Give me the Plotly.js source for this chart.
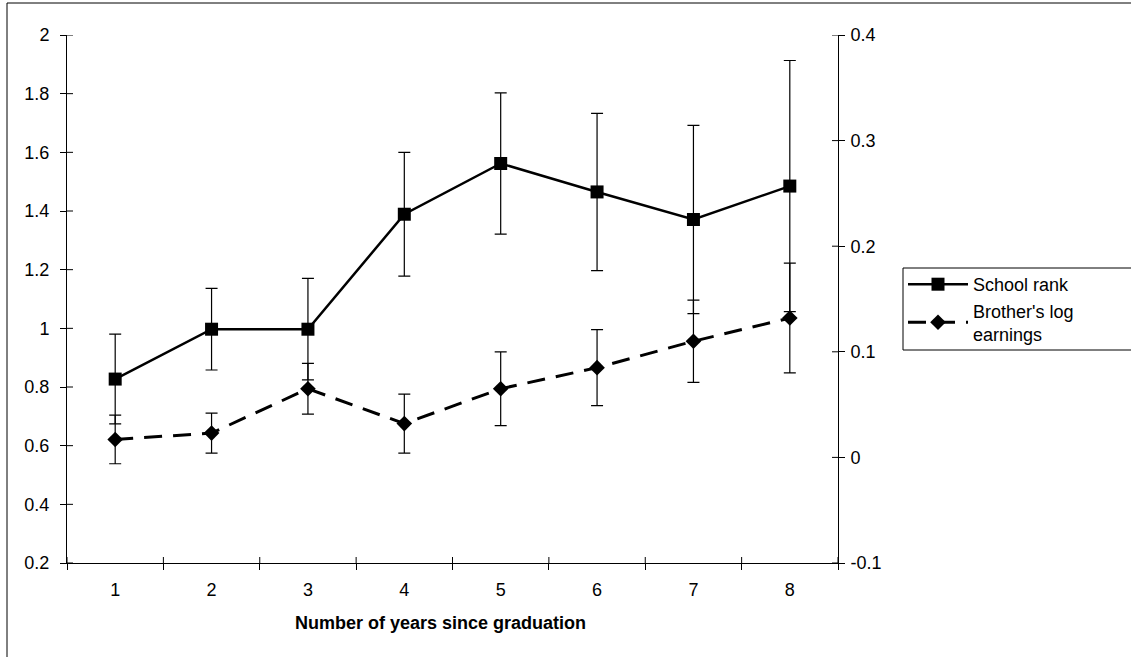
<!DOCTYPE html>
<html>
<head>
<meta charset="utf-8">
<script src="https://cdn.plot.ly/plotly-3.0.1.min.js"></script>
<style>
  html, body { margin: 0; padding: 0; background: #ffffff; }
  #chart { width: 1131px; height: 657px; }
</style>
</head>
<body>
<div id="chart"></div>
<script>
// ---- data ----
const years = [1, 2, 3, 4, 5, 6, 7, 8];
const yearLabels = ['1', '2', '3', '4', '5', '6', '7', '8'];

const schoolRank    = [0.827, 0.997, 0.997, 1.389, 1.562, 1.465, 1.371, 1.485];
const schoolRankErr = [0.153, 0.139, 0.173, 0.211, 0.241, 0.268, 0.321, 0.428];

const brotherLogEarnings    = [0.017, 0.023, 0.065, 0.032, 0.065, 0.085, 0.110, 0.132];
const brotherLogEarningsErr = [0.023, 0.019, 0.024, 0.028, 0.035, 0.036, 0.039, 0.052];

const leftTicks       = [0.2, 0.4, 0.6, 0.8, 1.0, 1.2, 1.4, 1.6, 1.8, 2.0];
const leftTickLabels  = ['0.2', '0.4', '0.6', '0.8', '1', '1.2', '1.4', '1.6', '1.8', '2'];
const rightTicks      = [-0.1, 0, 0.1, 0.2, 0.3, 0.4];
const rightTickLabels = ['-0.1', '0', '0.1', '0.2', '0.3', '0.4'];

const seriesNames = ['School rank', "Brother's log<br>earnings"];
const xTitle = 'Number of years since graduation';

// ---- derived helpers ----
const xBoundaries = years.map(v => v - 0.5).concat([years[years.length - 1] + 0.5]);
const FONT = 'Arial, "Liberation Sans", sans-serif';
const TL = 6; // tick half-length

const traces = [
  {
    x: years, y: schoolRank, name: seriesNames[0], type: 'scatter', mode: 'lines+markers',
    line: { color: '#000000', width: 2.5 },
    marker: { symbol: 'square', size: 13, color: '#000000' },
    error_y: { type: 'data', array: schoolRankErr, visible: true, color: '#000000', thickness: 1.2, width: 6 },
    yaxis: 'y'
  },
  {
    x: years, y: brotherLogEarnings, name: seriesNames[1], type: 'scatter', mode: 'lines+markers',
    line: { color: '#000000', width: 3, dash: '18px,11px' },
    marker: { symbol: 'diamond', size: 12, color: '#000000' },
    error_y: { type: 'data', array: brotherLogEarningsErr, visible: true, color: '#000000', thickness: 1.2, width: 6 },
    yaxis: 'y2'
  }
];

// inner halves of crossing ticks
const shapes = [];
xBoundaries.forEach(b => shapes.push({
  type: 'line', xref: 'x', yref: 'paper', ysizemode: 'pixel', yanchor: 0,
  x0: b, x1: b, y0: 0, y1: TL, line: { color: '#000000', width: 1 }
}));
leftTicks.forEach(v => shapes.push({
  type: 'line', xref: 'paper', yref: 'y', xsizemode: 'pixel', xanchor: 0,
  x0: 0, x1: TL, y0: v, y1: v, line: { color: '#000000', width: 1 }
}));
rightTicks.forEach(v => shapes.push({
  type: 'line', xref: 'paper', yref: 'y2', xsizemode: 'pixel', xanchor: 1,
  x0: -TL, x1: 0, y0: v, y1: v, line: { color: '#000000', width: 1 }
}));
// outer chart frame
const L = 67, R = 838, T = 35, B = 563;
const pw = R - L, ph = B - T;
shapes.push({
  type: 'rect', xref: 'paper', yref: 'paper',
  x0: (7 - L) / pw, x1: (1145 - L) / pw, y0: (B - 670) / ph, y1: (B - 3) / ph,
  line: { color: '#000000', width: 1 }, fillcolor: 'rgba(0,0,0,0)', layer: 'below'
});
// legend frame (runs off the right edge like the reference)
shapes.push({
  type: 'rect', xref: 'paper', yref: 'paper',
  x0: (903 - L) / pw, x1: (1140 - L) / pw, y0: (B - 350) / ph, y1: (B - 268) / ph,
  line: { color: '#000000', width: 1 }, fillcolor: '#ffffff', layer: 'below'
});

const layout = {
  width: 1131, height: 657,
  margin: { l: L, r: 1131 - R, t: T, b: 657 - B, pad: 0 },
  paper_bgcolor: '#ffffff', plot_bgcolor: 'rgba(0,0,0,0)',
  font: { family: FONT, size: 18, color: '#000000' },
  showlegend: true,
  legend: {
    x: (903 - L) / pw, xanchor: 'left',
    y: (B - 266) / ph, yanchor: 'top',
    bgcolor: 'rgba(0,0,0,0)', borderwidth: 0,
    font: { family: FONT, size: 18, color: '#000000' },
    itemwidth: 60, tracegroupgap: 0
  },
  xaxis: {
    range: [0.5, 8.5], tickmode: 'array', tickvals: xBoundaries,
    ticktext: xBoundaries.map(() => ''),
    ticks: 'outside', ticklen: TL, tickwidth: 1, tickcolor: '#000000',
    showline: true, linecolor: '#000000', linewidth: 1,
    showgrid: false, zeroline: false, fixedrange: true,
    title: { text: '' }
  },
  xaxis2: {
    overlaying: 'x', anchor: 'y', side: 'bottom',
    range: [0.5, 8.5], tickmode: 'array', tickvals: years, ticktext: yearLabels,
    ticks: '', showline: false, showgrid: false, zeroline: false,
    tickfont: { family: FONT, size: 18, color: '#000000' },
    ticklabelstandoff: 14,
    title: { text: '' }
  },
  yaxis: {
    range: [0.2, 2.0], tickmode: 'array', tickvals: leftTicks, ticktext: leftTickLabels,
    ticks: 'outside', ticklen: TL, tickwidth: 1, tickcolor: '#000000',
    showline: true, linecolor: '#000000', linewidth: 1,
    showgrid: false, zeroline: false, ticklabelstandoff: 7,
    tickfont: { family: FONT, size: 18, color: '#000000' }
  },
  yaxis2: {
    overlaying: 'y', side: 'right', anchor: 'x',
    range: [-0.1, 0.4], tickmode: 'array', tickvals: rightTicks, ticktext: rightTickLabels,
    ticks: 'outside', ticklen: TL, tickwidth: 1, tickcolor: '#000000',
    showline: true, linecolor: '#000000', linewidth: 1,
    showgrid: false, zeroline: false, ticklabelstandoff: 2,
    tickfont: { family: FONT, size: 18, color: '#000000' }
  },
  annotations: [{
    text: '<b>' + xTitle + '</b>', xref: 'paper', yref: 'paper',
    x: (440 - L) / pw, y: (B - 623) / ph, xanchor: 'center', yanchor: 'middle',
    showarrow: false, font: { family: FONT, size: 18, color: '#000000' }
  }],
  shapes: shapes
};

// a hidden carrier so the label axis is drawn
traces.push({ x: years, y: schoolRank, xaxis: 'x2', yaxis: 'y', type: 'scatter', mode: 'none',
  showlegend: false, hoverinfo: 'skip' });

Plotly.newPlot('chart', traces, layout, { displayModeBar: false, staticPlot: true });
</script>
</body>
</html>
